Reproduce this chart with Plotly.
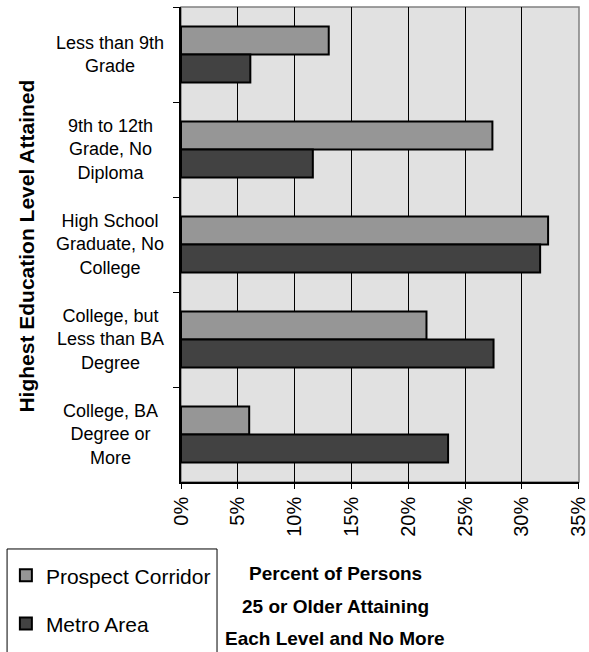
import plotly.graph_objects as go

# Education attainment shares (percent of persons 25 or older)
categories = [
    "Less than 9th Grade",
    "9th to 12th Grade, No Diploma",
    "High School Graduate, No College",
    "College, but Less than BA Degree",
    "College, BA Degree or More",
]
category_labels = [
    "Less than 9th<br>Grade",
    "9th to 12th<br>Grade, No<br>Diploma",
    "High School<br>Graduate, No<br>College",
    "College, but<br>Less than BA<br>Degree",
    "College, BA<br>Degree or<br>More",
]
prospect_corridor = [13.0, 27.4, 32.3, 21.6, 6.0]
metro_area = [6.1, 11.6, 31.6, 27.5, 23.5]
x_ticks = [0, 5, 10, 15, 20, 25, 30, 35]

FONT = "Liberation Sans, Arial, sans-serif"

fig = go.Figure()
fig.add_trace(go.Bar(
    y=categories, x=prospect_corridor, orientation="h",
    name="Prospect Corridor", legendgroup="pc",
    marker=dict(color="#969696", line=dict(color="#000000", width=2)),
))
fig.add_trace(go.Bar(
    y=categories, x=metro_area, orientation="h",
    name="Metro Area", legendgroup="ma",
    marker=dict(color="#424242", line=dict(color="#000000", width=2)),
))

# Category labels, centred beside the axis
for cat, lab in zip(categories, category_labels):
    fig.add_annotation(
        x=-0.178, xref="paper", y=cat, yref="y",
        text=lab, showarrow=False, xanchor="center", yanchor="middle",
        align="center", font=dict(family=FONT, size=18, color="#000000"),
    )

# Axis titles
fig.add_annotation(
    x=-0.389, xref="paper", y=0.496, yref="paper",
    text="<b>Highest Education Level Attained</b>", textangle=-90,
    showarrow=False, xanchor="center", yanchor="middle",
    font=dict(family=FONT, size=21, color="#000000"),
)
for line, yp in zip(["Percent of Persons", "25 or Older Attaining",
                     "Each Level and No More"], [-0.192, -0.262, -0.330]):
    fig.add_annotation(
        x=0.387, xref="paper", y=yp, yref="paper",
        text=f"<b>{line}</b>", showarrow=False,
        xanchor="center", yanchor="middle",
        font=dict(family=FONT, size=19, color="#000000"),
    )

# Plot-area frame (grey on top/right) and legend box
fig.add_shape(type="rect", xref="paper", yref="paper", x0=0, x1=1, y0=0, y1=1,
              line=dict(color="#808080", width=1.5), layer="below")
fig.add_shape(type="rect", xref="paper", yref="paper",
              x0=-0.437, x1=0.0905, y0=-0.141, y1=-0.40,
              line=dict(color="#000000", width=1), layer="above")

fig.update_layout(
    width=589, height=652,
    margin=dict(l=181, r=10, t=7, b=170, autoexpand=False),
    paper_bgcolor="#ffffff", plot_bgcolor="#e1e1e1",
    barmode="group", bargap=0.41, bargroupgap=0,
    font=dict(family=FONT, color="#000000"),
    showlegend=True,
    legend=dict(
        x=-0.44, xanchor="left", y=-0.154, yanchor="top",
        font=dict(family=FONT, size=21, color="#000000"),
        traceorder="grouped", tracegroupgap=18,
        bgcolor="rgba(0,0,0,0)", borderwidth=0,
    ),
    xaxis=dict(
        range=[0, 35.02], tickvals=x_ticks, ticktext=[f"{v}%" for v in x_ticks],
        tickangle=-90, tickfont=dict(family=FONT, size=20, color="#000000"),
        ticklabeloverflow="allow", automargin=False,
        showgrid=True, gridcolor="#000000", gridwidth=1,
        showline=True, linecolor="#000000", linewidth=1.5,
        ticks="outside", ticklen=5, tickcolor="#000000", zeroline=False,
    ),
    yaxis=dict(
        categoryorder="array", categoryarray=categories,
        range=[4.5, -0.5], showticklabels=False, automargin=False,
        showline=True, linecolor="#000000", linewidth=1.5,
        ticks="outside", ticklen=6, tickcolor="#000000", tickson="boundaries",
        showgrid=False, zeroline=False,
    ),
)

fig.write_html("out.html")
